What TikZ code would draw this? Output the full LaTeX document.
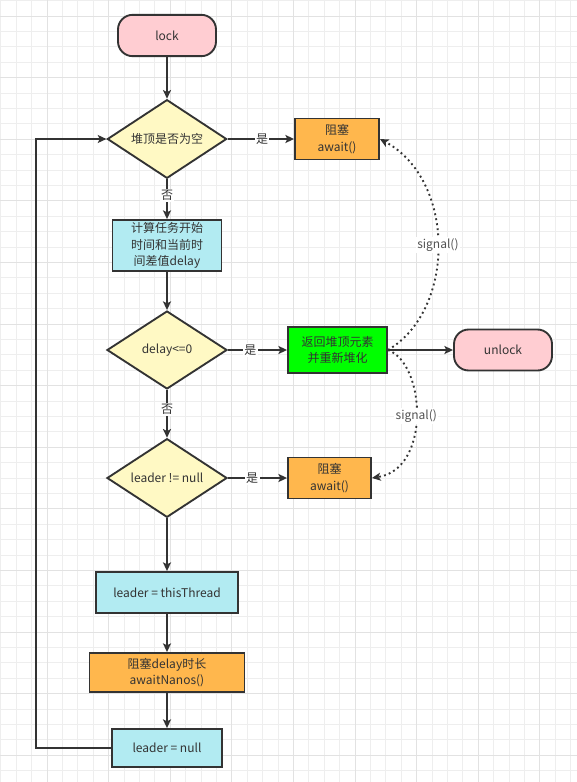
\documentclass[tikz,border=0pt]{standalone}
\usepackage{fontspec}
\setmainfont{Noto Sans CJK SC}
\usepackage{tikz}
\usetikzlibrary{shapes,arrows.meta}
\usepackage{xcolor}
\definecolor{textgray}{HTML}{333333}
\definecolor{linegray}{HTML}{333333}
\definecolor{pinkfill}{HTML}{FFCDD2}
\definecolor{yellowfill}{HTML}{FFF9C4}
\definecolor{bluefill}{HTML}{B2EBF2}
\definecolor{orangefill}{HTML}{FFB74D}
\definecolor{greenfill}{HTML}{00FF00}
\definecolor{gridminor}{HTML}{EEEEEE}
\definecolor{gridmajor}{HTML}{E2E2E2}

\begin{document}
\begin{tikzpicture}[x=0.75pt,y=-0.75pt,
  every node/.style={font=\fontsize{9}{12.5}\selectfont, text=textgray},
  terminal/.style={rectangle, rounded corners=11pt, draw=linegray, line width=1.4pt, fill=pinkfill, minimum width=73.5pt, minimum height=31pt},
  decision/.style={diamond, aspect=1.5, inner sep=0pt, draw=linegray, line width=1.4pt, fill=yellowfill, minimum width=89.5pt, minimum height=59pt},
  process/.style={rectangle, draw=linegray, line width=1.4pt, align=center, inner sep=1pt},
  flow/.style={draw=linegray, line width=1.4pt, -{Stealth[length=6.5pt,width=6pt,inset=1.5pt]}},
  signal/.style={draw=linegray, line width=1.4pt, dash pattern=on 1.4pt off 2.4pt, -{Stealth[length=6.5pt,width=6pt,inset=1.5pt]}},
  yesno/.style={fill=white, inner sep=1pt},
  siglabel/.style={fill=white, inner sep=1pt, text=textgray!85}
]
\useasboundingbox (0,0) rectangle (577,782);
\fill[white] (0,0) rectangle (577,782);
\foreach \k in {0,...,37} \draw[gridminor, line width=0.75pt] ({0.8+15.4*\k},0) -- ({0.8+15.4*\k},782);
\foreach \k in {0,...,50} \draw[gridminor, line width=0.75pt] (0,{0.6+15.4*\k}) -- (577,{0.6+15.4*\k});
\foreach \k in {3,7,...,35} \draw[gridmajor, line width=0.75pt] ({0.8+15.4*\k},0) -- ({0.8+15.4*\k},782);
\foreach \k in {1,5,...,49} \draw[gridmajor, line width=0.75pt] (0,{0.6+15.4*\k}) -- (577,{0.6+15.4*\k});

\node (lock) [terminal] at (167,35.5) {lock};
\node (heapEmpty) [decision] at (167,139) {堆顶是否为空};
\node (awaitA) [process, fill=orangefill, minimum width=63pt, minimum height=30.75pt] at (337,139) {阻塞\\await()};
\node (calcDelay) [process, fill=bluefill, minimum width=81.75pt, minimum height=38.25pt] at (167,245.5) {计算任务开始\\时间和当前时\\间差值delay};
\node (delayCheck) [decision, minimum width=90pt, minimum height=58.5pt] at (167,350) {delay<=0};
\node (popTop) [process, fill=greenfill, minimum width=74.25pt, minimum height=34.5pt] at (337.5,350) {返回堆顶元素\\并重新堆化};
\node (unlock) [terminal, minimum height=30.75pt] at (503,350) {unlock};
\node (leaderCheck) [decision, minimum width=90pt] at (167,478) {leader != null};
\node (awaitB) [process, fill=orangefill, minimum width=62.25pt, minimum height=30.75pt] at (329.5,478) {阻塞\\await()};
\node (setLeader) [process, fill=bluefill, minimum width=106.5pt, minimum height=30.75pt] at (167,592.5) {leader = thisThread};
\node (awaitNanos) [process, fill=orangefill, minimum width=116.25pt, minimum height=29.25pt] at (167,672.5) {阻塞delay时长\\awaitNanos()};
\node (clearLeader) [process, fill=bluefill, minimum width=82.5pt, minimum height=28.5pt] at (167,748) {leader = null};
\coordinate (loopLeft) at (36,450);

\draw[flow] (lock) -- (heapEmpty);
\draw[flow] (heapEmpty.east) -- node[yesno, pos=0.52] {是} (awaitA.west);
\draw[flow] (heapEmpty.south) -- node[yesno, pos=0.4] {否} (calcDelay.north);
\draw[flow] (calcDelay) -- (delayCheck);
\draw[flow] (delayCheck.east) -- node[yesno, pos=0.38] {是} (popTop.west);
\draw[flow] (delayCheck.south) -- node[yesno, pos=0.4] {否} (leaderCheck.north);
\draw[flow] (popTop.east) -- (unlock.west);
\draw[flow] (leaderCheck.east) -- node[yesno, pos=0.41] {是} (awaitB.west);
\draw[flow] (leaderCheck.south) -- (setLeader.north);
\draw[flow] (setLeader) -- (awaitNanos);
\draw[flow] (awaitNanos) -- (clearLeader);
\draw[flow] (clearLeader.west) -| (loopLeft) |- (heapEmpty.west);
\draw[signal] (popTop.east) .. controls +(68,-40) and +(76,41) .. (awaitA.east) node[siglabel, pos=0.5] {signal()};
\draw[signal] (popTop.east) .. controls +(38,14) and +(59,-9) .. (awaitB.east) node[siglabel, pos=0.5] {signal()};
\end{tikzpicture}
\end{document}
